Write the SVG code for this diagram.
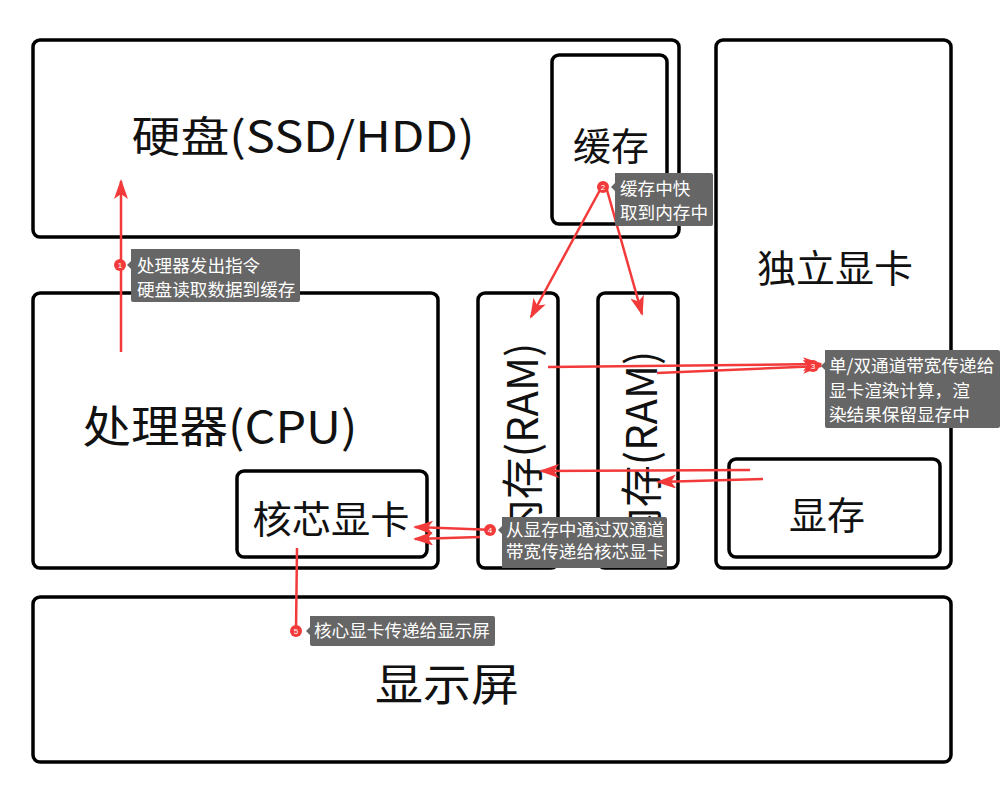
<svg xmlns="http://www.w3.org/2000/svg" width="1000" height="796" viewBox="0 0 1000 796">
<defs>
<marker id="ah" viewBox="0 0 20 14" refX="18" refY="7" markerWidth="20" markerHeight="14" markerUnits="userSpaceOnUse" orient="auto">
<path d="M0,0 L20,7 L0,14 L5,7 z" fill="#f33a3a"/>
</marker>
<style>
.box{fill:#fff;stroke:#000;stroke-width:3.5}
.t{font-family:"Noto Sans CJK SC","Noto Sans",sans-serif;fill:#111;text-anchor:middle;dominant-baseline:central}
.ar{stroke:#f33a3a;stroke-width:2.5;fill:none}
.lb{fill:#666}
.lt{font-family:"Noto Sans CJK SC","Noto Sans",sans-serif;font-size:17.6px;fill:#fff}
.bd{fill:#f33a3a}
.bn{font-family:"Liberation Sans",sans-serif;font-size:8px;fill:#fff;text-anchor:middle;dominant-baseline:central}
</style>
</defs>
<rect width="1000" height="796" fill="#fff"/>
<g id="disk"><rect class="box" x="33" y="40" width="646" height="197" rx="7"/><text class="t" x="303" y="133" font-size="42" textLength="343" lengthAdjust="spacingAndGlyphs">硬盘(SSD/HDD)</text></g>
<g id="cache"><rect class="box" x="552" y="55" width="115" height="169" rx="7"/><text class="t" x="611" y="143" font-size="38">缓存</text></g>
<g id="gpu"><rect class="box" x="716" y="40" width="235" height="528" rx="7"/><text class="t" x="835" y="265" font-size="38" textLength="156" lengthAdjust="spacingAndGlyphs">独立显卡</text></g>
<g id="cpu"><rect class="box" x="33" y="293" width="405" height="275" rx="7"/><text class="t" x="220" y="424" font-size="44" textLength="275" lengthAdjust="spacingAndGlyphs">处理器(CPU)</text></g>
<g id="igpu"><rect class="box" x="237" y="471" width="190" height="86" rx="7"/><text class="t" x="331" y="516" font-size="38" textLength="157" lengthAdjust="spacingAndGlyphs">核芯显卡</text></g>
<g id="ram1"><rect class="box" x="478" y="293" width="80" height="275" rx="7"/><text class="t" transform="translate(519,442) rotate(-90)" font-size="42">内存(RAM)</text></g>
<g id="ram2"><rect class="box" x="598" y="293" width="80" height="275" rx="7"/><text class="t" transform="translate(638,450) rotate(-90)" font-size="42">内存(RAM)</text></g>
<g id="vram"><rect class="box" x="729" y="459" width="211" height="98" rx="7"/><text class="t" x="827" y="512" font-size="38">显存</text></g>
<g id="display"><rect class="box" x="33" y="597" width="918" height="165" rx="7"/><text class="t" x="447" y="682" font-size="44" textLength="144" lengthAdjust="spacingAndGlyphs">显示屏</text></g>
<g id="connectors">
<line class="ar" x1="121" y1="352" x2="121" y2="181" marker-end="url(#ah)"/>
<line class="ar" x1="600" y1="190" x2="531" y2="317" marker-end="url(#ah)"/>
<line class="ar" x1="607" y1="190" x2="642" y2="314" marker-end="url(#ah)"/>
<line class="ar" x1="548" y1="367" x2="821" y2="364" marker-end="url(#ah)" stroke-width="2"/>
<line class="ar" x1="657" y1="373" x2="821" y2="366" marker-end="url(#ah)" stroke-width="2"/>
<line class="ar" x1="750" y1="470" x2="541" y2="471" marker-end="url(#ah)" stroke-width="3"/>
<line class="ar" x1="763" y1="479" x2="658" y2="482" marker-end="url(#ah)" stroke-width="3"/>
<line class="ar" x1="495" y1="530" x2="415" y2="527" marker-end="url(#ah)" stroke-width="3"/>
<line class="ar" x1="480" y1="537" x2="415" y2="539" marker-end="url(#ah)" stroke-width="3"/>
<line class="ar" x1="297" y1="548" x2="296" y2="631" stroke-width="3"/>
</g>
<g id="note1"><path class="lb" d="M131,249 H298 a2,2 0 0 1 2,2 V300 a2,2 0 0 1 -2,2 H133 a2,2 0 0 1 -2,-2 V269 L127,265 L131,261 Z"/><circle class="bd" cx="120" cy="265" r="6"/><text class="bn" x="120" y="265">1</text><text class="lt" x="137" y="272">处理器发出指令</text><text class="lt" x="137" y="296">硬盘读取数据到缓存</text></g>
<g id="note2"><path class="lb" d="M615,173 H711 a2,2 0 0 1 2,2 V224 a2,2 0 0 1 -2,2 H617 a2,2 0 0 1 -2,-2 V191 L611,187 L615,183 Z"/><circle class="bd" cx="603" cy="187" r="6"/><text class="bn" x="603" y="187">2</text><text class="lt" x="620" y="195">缓存中快</text><text class="lt" x="620" y="219">取到内存中</text></g>
<g id="note3"><path class="lb" d="M825,350 H998 a2,2 0 0 1 2,2 V426 a2,2 0 0 1 -2,2 H827 a2,2 0 0 1 -2,-2 V370 L821,366 L825,362 Z"/><circle class="bd" cx="813" cy="366" r="6"/><text class="bn" x="813" y="366">3</text><text class="lt" x="829" y="372">单/双通道带宽传递给</text><text class="lt" x="829" y="397">显卡渲染计算，渲</text><text class="lt" x="829" y="421">染结果保留显存中</text></g>
<g id="note4"><path class="lb" d="M502,517 H665 a2,2 0 0 1 2,2 V568 H502 V534 L498,530 L502,526 Z"/><circle class="bd" cx="490" cy="530" r="6"/><text class="bn" x="490" y="530">4</text><text class="lt" x="506" y="536">从显存中通过双通道</text><text class="lt" x="506" y="558">带宽传递给核芯显卡</text></g>
<g id="note5"><path class="lb" d="M310,616 H493 a2,2 0 0 1 2,2 V644 a2,2 0 0 1 -2,2 H312 a2,2 0 0 1 -2,-2 V635 L306,631 L310,627 Z"/><circle class="bd" cx="296" cy="631" r="6"/><text class="bn" x="296" y="631">5</text><text class="lt" x="314" y="637">核心显卡传递给显示屏</text></g>
</svg>
